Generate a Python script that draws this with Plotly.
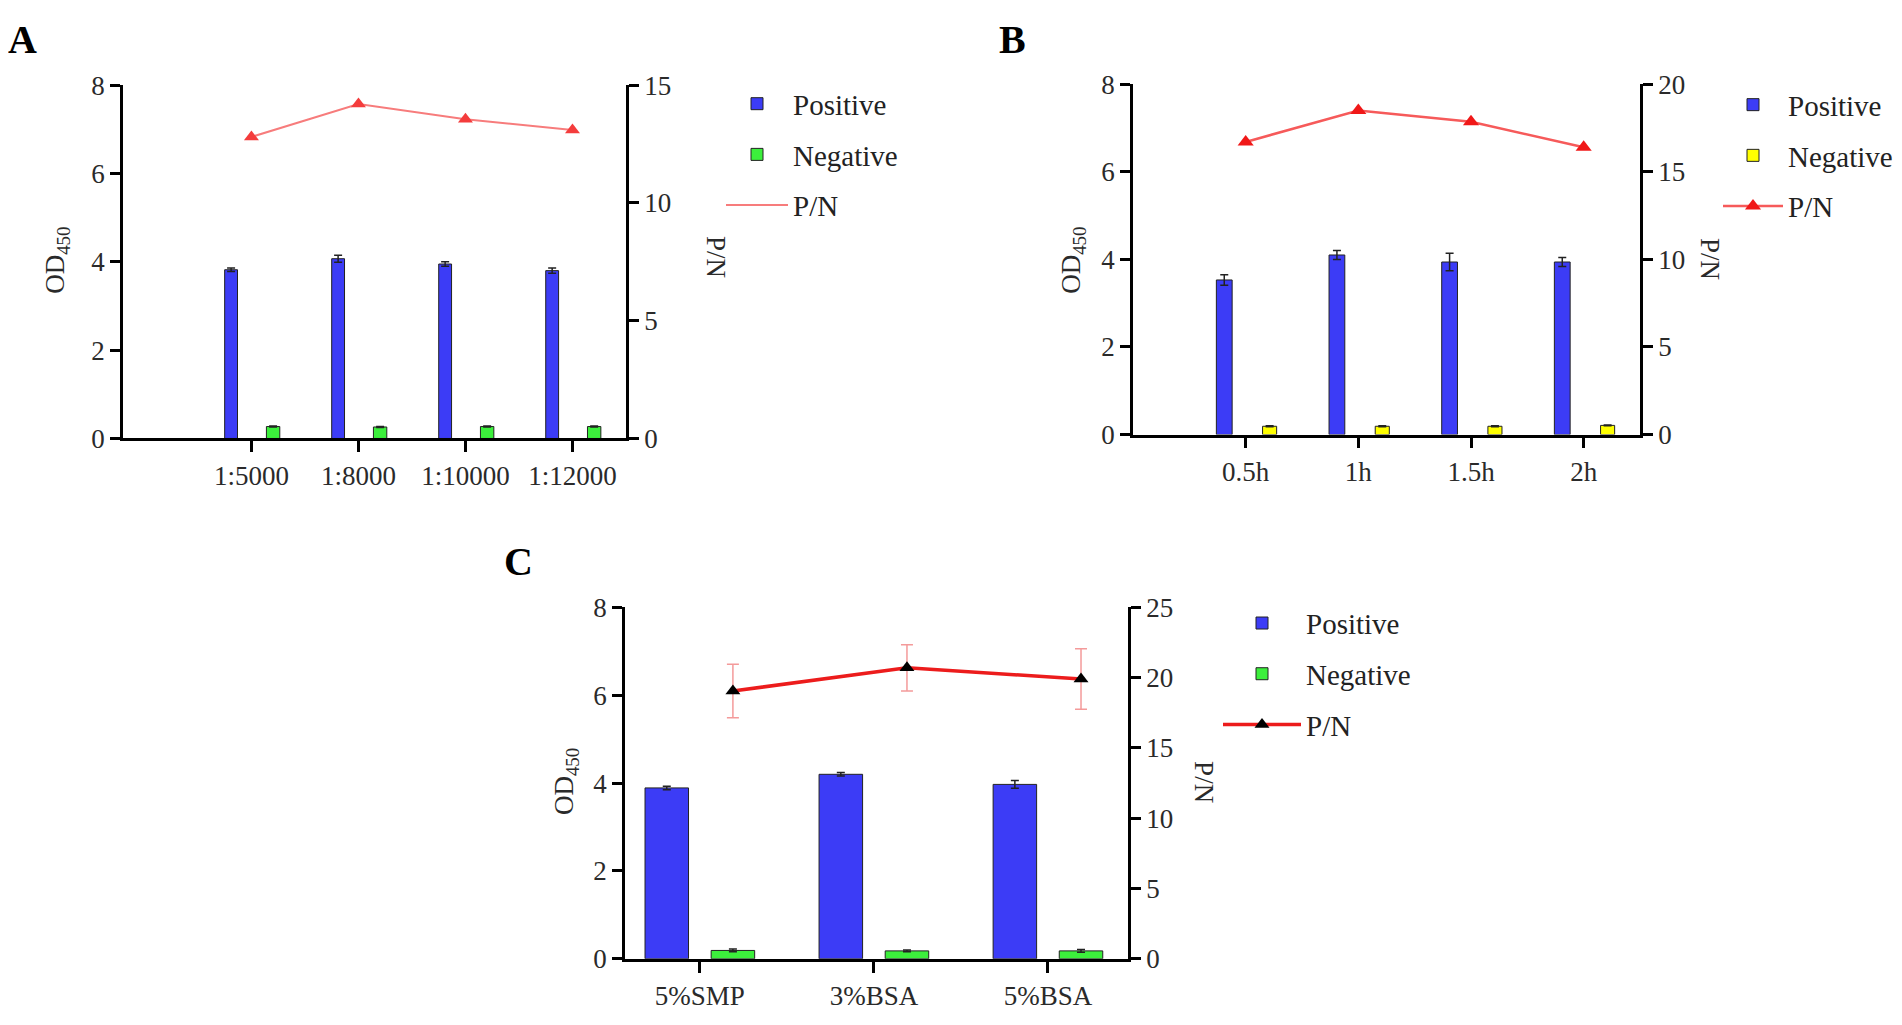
import plotly.graph_objects as go

# panel A: secondary antibody dilution
a_cats = ["1:5000", "1:8000", "1:10000", "1:12000"]
a_pos = [3.82, 4.07, 3.95, 3.80]
a_pos_err = [0.04, 0.08, 0.05, 0.06]
a_neg = [0.27, 0.26, 0.27, 0.27]
a_neg_err = [0.01, 0.01, 0.01, 0.01]
a_pn = [12.8, 14.2, 13.55, 13.1]

# panel B: incubation time
b_cats = ["0.5h", "1h", "1.5h", "2h"]
b_pos = [3.53, 4.10, 3.94, 3.94]
b_pos_err = [0.12, 0.10, 0.20, 0.10]
b_neg = [0.19, 0.19, 0.19, 0.21]
b_neg_err = [0.01, 0.01, 0.01, 0.01]
b_pn = [16.7, 18.5, 17.85, 16.4]

# panel C: blocking buffer
c_cats = ["5%SMP", "3%BSA", "5%BSA"]
c_pos = [3.89, 4.20, 3.97]
c_pos_err = [0.04, 0.04, 0.09]
c_neg = [0.19, 0.18, 0.18]
c_neg_err = [0.03, 0.02, 0.03]
c_pn = [19.05, 20.7, 19.9]
c_pn_err = [1.9, 1.65, 2.15]

W, H = 1902, 1025
OFF = 8  # page body margin
FONT = "Liberation Serif"
BLUE = "#3c3cf6"
GREEN = "#3cef3c"
YELLOW = "#ffff00"


def px(x):
    return (x - OFF) / W


def py(y):
    return 1 - (y - OFF) / H


fig = go.Figure()

panels = [
    dict(cats=a_cats, pos=a_pos, pe=a_pos_err, neg=a_neg, ne=a_neg_err, pn=a_pn,
         ncol=GREEN, xr=[-1.2, 3.5], y2max=15, w=(0.12, 0.125), off=(-0.25, 0.14),
         xd=[123, 626], yd=[72, 436], leg="legend", n=""),
    dict(cats=b_cats, pos=b_pos, pe=b_pos_err, neg=b_neg, ne=b_neg_err, pn=b_pn,
         ncol=YELLOW, xr=[-1.0, 3.5], y2max=20, w=(0.14, 0.125), off=(-0.26, 0.15),
         xd=[1133, 1640], yd=[71, 432], leg="legend2", n="2"),
    dict(cats=c_cats, pos=c_pos, pe=c_pos_err, neg=c_neg, ne=c_neg_err, pn=c_pn,
         ncol=GREEN, xr=[-0.43, 2.46], y2max=25, w=(0.25, 0.25), off=(-0.315, 0.065),
         xd=[625, 1128], yd=[610, 972], leg="legend3", n="3"),
]

axis_style = dict(showline=True, linecolor="black", linewidth=2.5, ticks="outside",
                  tickcolor="black", tickwidth=2.5, showgrid=False, zeroline=False,
                  tickfont=dict(family=FONT, size=27, color="#2a2a2a"))

for i, p in enumerate(panels):
    n = p["n"]
    xa = "x" + n
    ya = "y" + n
    y2 = "y" + str(4 + i)
    fig.add_trace(go.Bar(
        x=p["cats"], y=p["pos"], xaxis=xa, yaxis=ya, name="Positive",
        width=p["w"][0], offset=p["off"][0],
        marker=dict(color=BLUE, line=dict(color="#222", width=1)),
        error_y=dict(type="data", array=p["pe"], color="#222", thickness=1.5, width=4),
        legend=p["leg"], legendgroup="pos" + n,
    ))
    fig.add_trace(go.Bar(
        x=p["cats"], y=p["neg"], xaxis=xa, yaxis=ya, name="Negative",
        width=p["w"][1], offset=p["off"][1],
        marker=dict(color=p["ncol"], line=dict(color="#222", width=1)),
        error_y=dict(type="data", array=p["ne"], color="#222", thickness=1.5, width=4),
        legend=p["leg"], legendgroup="neg" + n,
    ))
    if i == 0:
        fig.add_trace(go.Scatter(
            x=p["cats"], y=p["pn"], xaxis=xa, yaxis=y2, name="P/N", mode="lines",
            line=dict(color="#f77c7c", width=2),
            legend=p["leg"], legendgroup="pn" + n,
        ))
        fig.add_trace(go.Scatter(
            x=p["cats"], y=p["pn"], xaxis=xa, yaxis=y2, mode="markers", showlegend=False,
            marker=dict(symbol="triangle-up", size=13, color="#f43c3c"),
        ))
    elif i == 1:
        fig.add_trace(go.Scatter(
            x=p["cats"], y=p["pn"], xaxis=xa, yaxis=y2, name="P/N", mode="lines+markers",
            line=dict(color="#f65a5a", width=2.5),
            marker=dict(symbol="triangle-up", size=14, color="#f01818"),
            legend=p["leg"], legendgroup="pn" + n,
        ))
    else:
        # P/N points of panel C sit over the Negative bars, so use a shifted overlay x axis
        fig.add_trace(go.Scatter(
            x=p["cats"], y=c_pn, xaxis="x7", yaxis=y2, name="P/N", mode="lines+markers",
            line=dict(color="#ec1c1c", width=3.5),
            marker=dict(symbol="triangle-up", size=13, color="black"),
            error_y=dict(type="data", array=c_pn_err, color="#f49a9a", thickness=1.5, width=6),
            legend=p["leg"], legendgroup="pn" + n,
        ))

    xdom = [px(p["xd"][0]), px(p["xd"][1])]
    ydom = [py(p["yd"][1]), py(p["yd"][0])]
    fig.layout["xaxis" + n] = dict(axis_style, domain=xdom, anchor=ya, type="category",
                                   range=p["xr"], ticklen=11)
    fig.layout["yaxis" + n] = dict(axis_style, domain=ydom, anchor=xa, range=[0, 8],
                                   dtick=2, ticklen=10)
    fig.layout["yaxis" + str(4 + i)] = dict(axis_style, overlaying=ya, side="right",
                                            anchor=xa, range=[0, p["y2max"]], dtick=5,
                                            ticklen=10)

shift = 0.19
fig.layout["xaxis7"] = dict(overlaying="x3", anchor="y6", type="category", visible=False,
                            range=[panels[2]["xr"][0] - shift, panels[2]["xr"][1] - shift],
                            showgrid=False, zeroline=False)

legend_style = dict(font=dict(family=FONT, size=29, color="#222"), bgcolor="rgba(0,0,0,0)",
                    traceorder="grouped", tracegroupgap=10, xanchor="left", yanchor="top")
fig.update_layout(
    legend=dict(legend_style, x=px(721), y=py(65), itemwidth=62),
    legend2=dict(legend_style, x=px(1718), y=py(66), itemwidth=60),
    legend3=dict(legend_style, x=px(1218), y=py(600), itemwidth=78),
)

ann = []
for txt, x, y in [("A", 22, 25), ("B", 1012, 25), ("C", 518, 563)]:
    ann.append(dict(text="<b>%s</b>" % txt, x=px(x), y=py(y), xref="paper", yref="paper",
                    xanchor="center", yanchor="middle", showarrow=False,
                    font=dict(family=FONT, size=40, color="black")))
for x, y in [(57, 253), (1073, 253), (566, 790)]:
    ann.append(dict(text="OD<sub>450</sub>", x=px(x), y=py(y), xref="paper", yref="paper",
                    xanchor="center", yanchor="middle", showarrow=False, textangle=-90,
                    font=dict(family=FONT, size=27, color="#2a2a2a")))
for x, y in [(716, 249), (1710, 251), (1204, 790)]:
    ann.append(dict(text="P/N", x=px(x), y=py(y), xref="paper", yref="paper",
                    xanchor="center", yanchor="middle", showarrow=False, textangle=90,
                    font=dict(family=FONT, size=27, color="#2a2a2a")))

fig.update_layout(
    width=W, height=H,
    margin=dict(l=0, r=0, t=0, b=0),
    paper_bgcolor="white", plot_bgcolor="white",
    barmode="overlay",
    annotations=ann,
    showlegend=True,
)

fig.write_html("out.html")
